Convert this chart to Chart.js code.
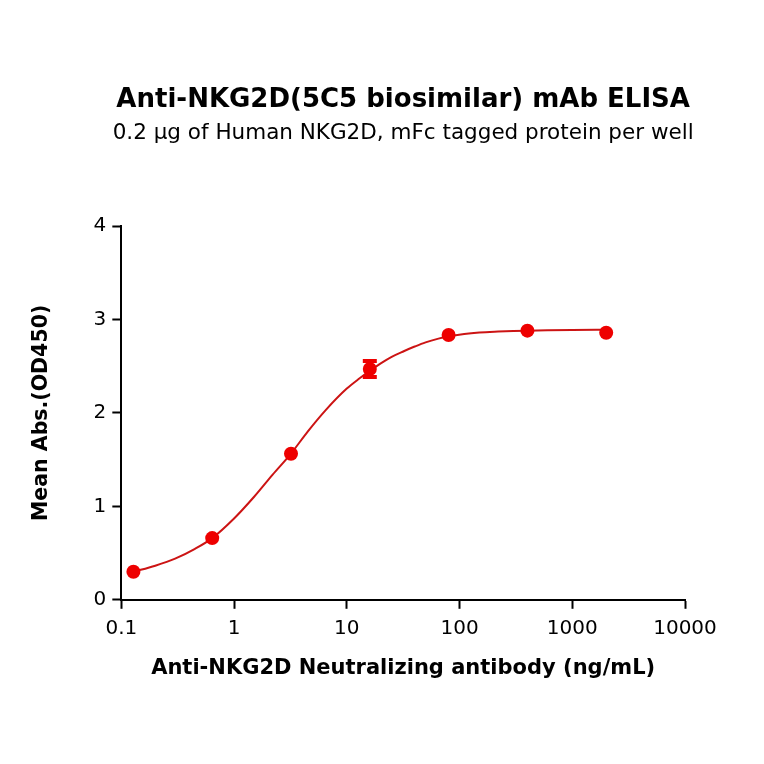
<!DOCTYPE html>
<html>
<head>
<meta charset="utf-8">
<script src="https://cdn.jsdelivr.net/npm/chart.js@4"></script>
<style>
  body{ margin:0; background:#fff; }
</style>
</head>
<body>
<canvas id="grafico" width="764" height="764"></canvas>
<script>

// measured points (ng/mL, OD450)
const concentracao = [0.128, 0.64, 3.2, 16, 80, 400, 2000];
const absorbancia = [0.30, 0.66, 1.563, 2.47, 2.833, 2.88, 2.857];
const erro = [0, 0, 0, 0.085, 0, 0, 0];

// fitted curve
const curvaX = [0.128, 0.2, 0.3, 0.45, 0.64, 1, 1.5, 2.2, 3.2, 4.5, 6.5, 10, 13, 16, 20, 25, 32, 40, 50, 65, 80, 110, 150, 220, 300, 400, 600, 1000, 2000];
const curvaY = [0.30, 0.365, 0.44, 0.545, 0.66, 0.87, 1.10, 1.34, 1.565, 1.80, 2.03, 2.26, 2.37, 2.45, 2.53, 2.60, 2.66, 2.71, 2.755, 2.795, 2.82, 2.845, 2.86, 2.87, 2.876, 2.88, 2.884, 2.887, 2.89];

const ticksX = [0.1, 1, 10, 100, 1000, 10000];
const ticksY = [0, 1, 2, 3, 4];

const titulo = 'Anti-NKG2D(5C5 biosimilar) mAb ELISA';
const subtitulo = '0.2 \u03bcg of Human NKG2D, mFc tagged protein per well';

const fonte = "'DejaVu Sans', sans-serif";

// titles centred over the plot area
const titulos = {
  id:'titulos',
  afterDraw(chart){
    const c = chart.ctx;
    const cx = (chart.chartArea.left + chart.chartArea.right) / 2;
    c.save();
    c.fillStyle = '#000';
    c.textAlign = 'center';
    c.textBaseline = 'middle';
    c.font = "bold 26px " + fonte;
    c.fillText(titulo, cx, 100);
    c.font = "21.5px " + fonte;
    c.fillText(subtitulo, cx, 133);
    c.restore();
  }
};

// error bar with caps, drawn after the datasets
const barrasErro = {
  id:'barrasErro',
  afterDatasetsDraw(chart){
    const c = chart.ctx;
    const x = chart.scales.x;
    const y = chart.scales.y;
    c.save();
    c.strokeStyle = '#ee0000';
    for(let i = 0; i < concentracao.length; i++){
      if(!erro[i]) continue;
      const px = x.getPixelForValue(concentracao[i]);
      const top = y.getPixelForValue(absorbancia[i] + erro[i]);
      const bot = y.getPixelForValue(absorbancia[i] - erro[i]);
      c.lineWidth = 3;
      c.beginPath();
      c.moveTo(px, top);
      c.lineTo(px, bot);
      c.stroke();
      c.lineWidth = 4;
      c.beginPath();
      c.moveTo(px - 7, top);
      c.lineTo(px + 7, top);
      c.moveTo(px - 7, bot);
      c.lineTo(px + 7, bot);
      c.stroke();
    }
    c.restore();
  }
};

const ctx = document.getElementById("grafico");

new Chart(ctx, {
  type:'scatter',
  data:{
    datasets:[
      {
        label:'dados',
        data:concentracao.map((v, i) => ({x:v, y:absorbancia[i]})),
        pointRadius:7,
        pointHoverRadius:7,
        pointStyle:'circle',
        backgroundColor:'#ee0000',
        borderColor:'#ee0000',
        borderWidth:0,
        order:0
      },
      {
        label:'ajuste',
        type:'line',
        data:curvaX.map((v, i) => ({x:v, y:curvaY[i]})),
        borderColor:'#cc1414',
        borderWidth:2,
        pointRadius:0,
        fill:false,
        cubicInterpolationMode:'monotone',
        order:1
      }
    ]
  },
  options:{
    responsive:false,
    animation:false,
    layout:{
      padding:{ left:0, right:79, top:226, bottom:83 }
    },
    plugins:{
      legend:{ display:false },
      tooltip:{ enabled:false }
    },
    scales:{
      x:{
        type:'logarithmic',
        min:0.1,
        max:10000,
        afterBuildTicks: s => { s.ticks = ticksX.map(v => ({value:v})); },
        ticks:{
          color:'#000',
          font:{ family:fonte, size:20 },
          padding:8,
          maxRotation:0,
          autoSkip:false,
          callback: v => String(v)
        },
        grid:{
          drawOnChartArea:false,
          drawTicks:true,
          tickLength:9,
          tickWidth:2,
          tickColor:'#000'
        },
        border:{ display:true, color:'#000', width:2 },
        title:{
          display:true,
          text:'Anti-NKG2D Neutralizing antibody (ng/mL)',
          color:'#000',
          font:{ family:fonte, size:21, weight:'bold' },
          padding:{ top:7, bottom:0 }
        }
      },
      y:{
        min:0,
        max:4,
        afterBuildTicks: s => { s.ticks = ticksY.map(v => ({value:v})); },
        ticks:{
          color:'#000',
          font:{ family:fonte, size:20 },
          padding:6
        },
        grid:{
          drawOnChartArea:false,
          drawTicks:true,
          tickLength:9,
          tickWidth:2,
          tickColor:'#000'
        },
        border:{ display:true, color:'#000', width:2 },
        title:{
          display:true,
          text:'Mean Abs.(OD450)',
          color:'#000',
          font:{ family:fonte, size:20.5, weight:'bold' },
          padding:{ top:29, bottom:34 }
        }
      }
    }
  },
  plugins:[barrasErro, titulos]
});

</script>
</body>
</html>
